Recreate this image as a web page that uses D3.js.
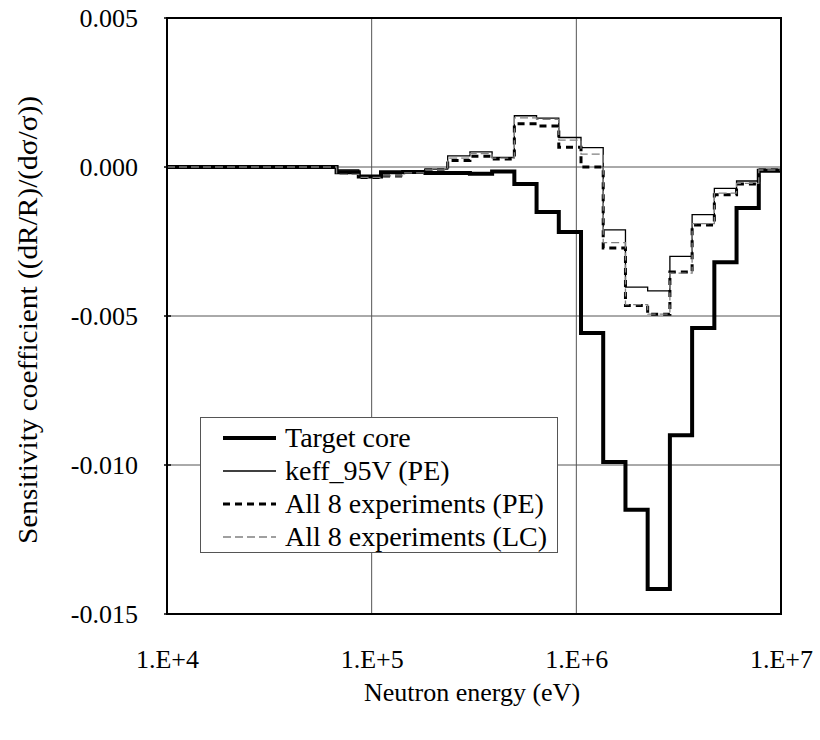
<!DOCTYPE html>
<html>
<head>
<meta charset="utf-8">
<script src="https://cdn.jsdelivr.net/npm/d3@7"></script>
<style>
  html, body { margin: 0; padding: 0; background: #fff; }
</style>
</head>
<body>
<svg id="chart" width="820" height="740"></svg>
<script>
// Energy group boundaries (eV), ascending
const energyEdges = [1.0e4, 6.738e4, 8.652e4, 1.111e5, 1.426e5, 1.832e5, 2.352e5, 3.020e5, 3.877e5,
  4.979e5, 6.393e5, 8.209e5, 1.054e6, 1.353e6, 1.738e6, 2.231e6, 2.865e6, 3.679e6, 4.724e6,
  6.065e6, 7.788e6, 1.0e7];

// Sensitivity per group (value of the group starting at the matching edge)
const targetCore = [0, -0.00018, -0.00032, -0.00018, -0.00017, -0.00020, -0.00020, -0.00023, -0.00015,
  -0.00057, -0.00151, -0.00218, -0.00557, -0.00990, -0.01150, -0.01416, -0.00900, -0.00540,
  -0.00320, -0.00138, -0.00013];
const keff95V = [0, -0.00010, -0.00035, -0.00020, -0.00015, -0.00007, 0.00037, 0.00051, 0.00032,
  0.00172, 0.00164, 0.00099, 0.00065, -0.00211, -0.00403, -0.00416, -0.00300, -0.00160,
  -0.00072, -0.00047, -0.00008];
const all8PE = [0, -0.00020, -0.00035, -0.00030, -0.00015, -0.00010, 0.00022, 0.00036, 0.00027,
  0.00145, 0.00138, 0.00066, 0.00000, -0.00272, -0.00465, -0.00494, -0.00352, -0.00195,
  -0.00093, -0.00057, -0.00010];
const all8LC = [0, -0.00025, -0.00035, -0.00030, -0.00020, -0.00010, 0.00030, 0.00045, 0.00030,
  0.00165, 0.00160, 0.00090, 0.00043, -0.00254, -0.00462, -0.00494, -0.00356, -0.00190,
  -0.00088, -0.00055, -0.00010];

const xTicks = [1e4, 1e5, 1e6, 1e7];
const xTickLabels = ["1.E+4", "1.E+5", "1.E+6", "1.E+7"];
const yTicks = [0.005, 0.000, -0.005, -0.010, -0.015];
const yTickLabels = ["0.005", "0.000", "-0.005", "-0.010", "-0.015"];

const seriesNames = ["Target core", "keff_95V (PE)", "All 8 experiments (PE)", "All 8 experiments (LC)"];
const seriesValues = [targetCore, keff95V, all8PE, all8LC];
const seriesStyles = [
  { color: "#000", width: 4, dash: null },
  { color: "#000", width: 1.3, dash: null },
  { color: "#000", width: 3, dash: "7,5" },
  { color: "#808080", width: 1.3, dash: "8,4" }
];

const FONT = "'Liberation Serif', 'Times New Roman', serif";
const L = 167, R = 781, T = 18, B = 614;
const svg = d3.select("#chart");
const x = d3.scaleLog().domain([1e4, 1e7]).range([L, R]);
const y = d3.scaleLinear().domain([-0.015, 0.005]).range([B, T]);

// grid
const grid = svg.append("g");
grid.selectAll("line.v").data(xTicks.slice(1, -1)).enter().append("line")
  .attr("x1", d => x(d)).attr("x2", d => x(d)).attr("y1", T).attr("y2", B)
  .attr("stroke", "#555").attr("stroke-width", 1);
grid.selectAll("line.h").data(yTicks.slice(1, -1)).enter().append("line")
  .attr("x1", L).attr("x2", R).attr("y1", d => y(d)).attr("y2", d => y(d))
  .attr("stroke", "#555").attr("stroke-width", 1);

// axes (labels drawn with d3 axes)
const xAxis = d3.axisBottom(x).tickValues(xTicks).tickFormat((d, i) => xTickLabels[i]).tickSize(0).tickPadding(0);
const gx = svg.append("g").attr("transform", `translate(0,${B + 40})`).call(xAxis);
gx.select(".domain").remove();
gx.selectAll("text").style("font-family", FONT).style("font-size", "26px").attr("fill", "#000")
  .attr("dy", "0.52em");

const yAxis = d3.axisLeft(y).tickValues(yTicks).tickFormat((d, i) => yTickLabels[i]).tickSize(0).tickPadding(0);
const gy = svg.append("g").attr("transform", `translate(${L - 29},0)`).call(yAxis);
gy.select(".domain").remove();
gy.selectAll("text").style("font-family", FONT).style("font-size", "26px").attr("fill", "#000");

// small tick marks on left axis
svg.append("g").selectAll("line").data(yTicks).enter().append("line")
  .attr("x1", L - 3).attr("x2", L + 4).attr("y1", d => y(d)).attr("y2", d => y(d))
  .attr("stroke", "#000").attr("stroke-width", 1.5);

// series
const line = d3.line().x(d => x(d[0])).y(d => y(d[1])).curve(d3.curveStepAfter);
seriesValues.forEach((vals, i) => {
  const pts = vals.map((v, k) => [energyEdges[k], v]);
  pts.push([energyEdges[energyEdges.length - 1], vals[vals.length - 1]]);
  const s = seriesStyles[i];
  svg.append("path").datum(pts).attr("d", line)
    .attr("fill", "none").attr("stroke", s.color).attr("stroke-width", s.width)
    .attr("stroke-dasharray", s.dash).attr("stroke-linejoin", "miter");
});

// frame
svg.append("rect").attr("x", L).attr("y", T).attr("width", R - L).attr("height", B - T)
  .attr("fill", "none").attr("stroke", "#000").attr("stroke-width", 2);

// legend
const lg = svg.append("g");
lg.append("rect").attr("x", 200.5).attr("y", 417.5).attr("width", 357).attr("height", 135)
  .attr("fill", "#fff").attr("stroke", "#555").attr("stroke-width", 1);
const rowsY = [438, 471, 504, 537];
seriesNames.forEach((name, i) => {
  const s = seriesStyles[i];
  lg.append("line").attr("x1", 223).attr("x2", 276).attr("y1", rowsY[i]).attr("y2", rowsY[i])
    .attr("stroke", s.color).attr("stroke-width", s.width).attr("stroke-dasharray", s.dash);
  lg.append("text").attr("x", 285).attr("y", rowsY[i] + 9).style("font-family", FONT)
    .style("font-size", "28px").text(name);
});

// axis titles
svg.append("text").attr("x", (L + R) / 2 - 2).attr("y", 701).attr("text-anchor", "middle")
  .style("font-family", FONT).style("font-size", "26px").text("Neutron energy (eV)");
svg.append("text").attr("transform", `translate(37,${(T + B) / 2 + 4}) rotate(-90)`).attr("text-anchor", "middle")
  .attr("textLength", 448).attr("lengthAdjust", "spacingAndGlyphs")
  .style("font-family", FONT).style("font-size", "27px").text("Sensitivity coefficient ((dR/R)/(dσ/σ))");
</script>
</body>
</html>
